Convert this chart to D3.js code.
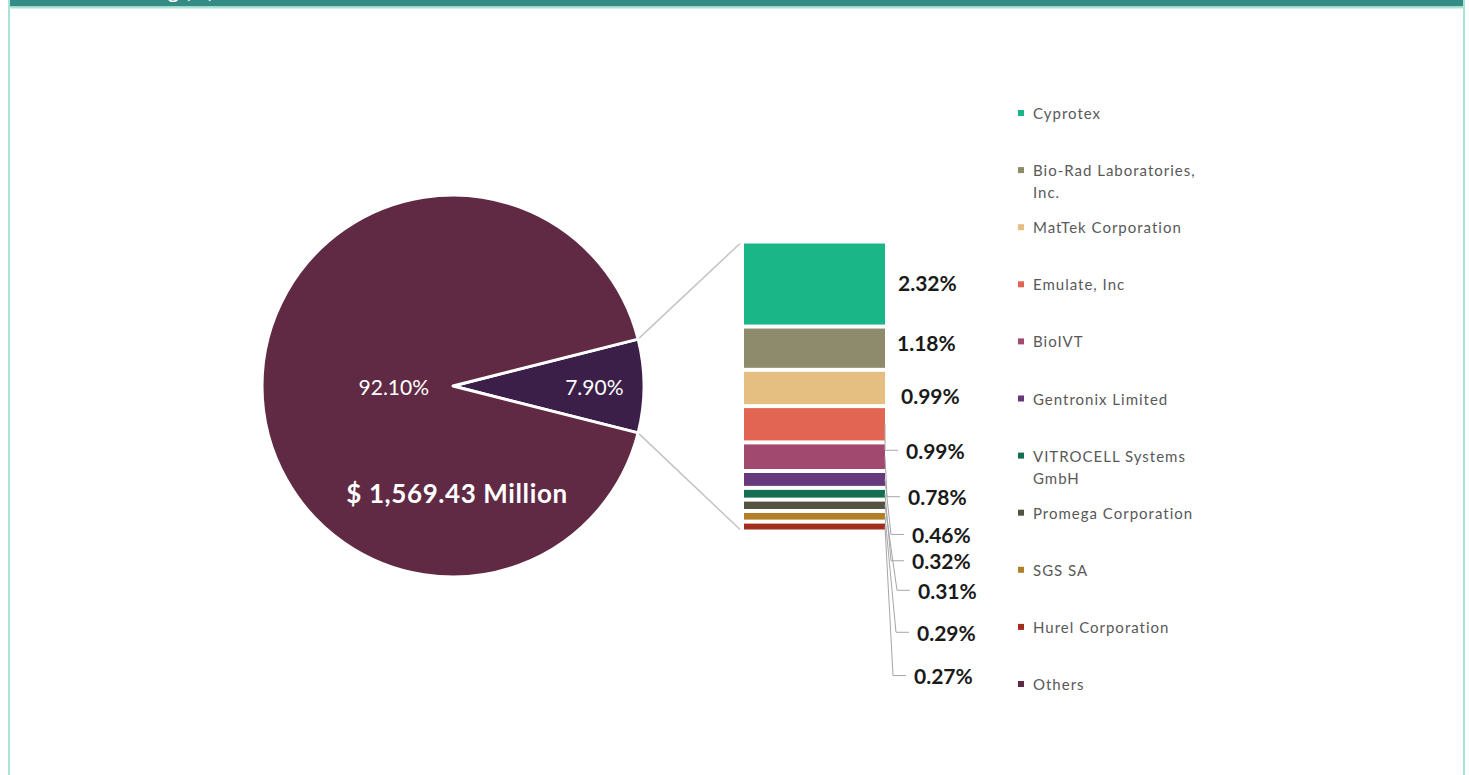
<!DOCTYPE html>
<html>
<head>
<meta charset="utf-8">
<script src="https://cdn.jsdelivr.net/npm/d3@7"></script>
<style>
  body { margin: 0; background: #fff; }
  svg { display: block; font-family: Lato, "Open Sans", sans-serif; }
</style>
</head>
<body>
<svg width="1469" height="775"></svg>
<script>
// ---- data ----
var companies = ["Cyprotex", "Bio-Rad Laboratories, Inc.", "MatTek Corporation", "Emulate, Inc", "BioIVT",
  "Gentronix Limited", "VITROCELL Systems GmbH", "Promega Corporation", "SGS SA", "Hurel Corporation"];
var shares = [2.32, 1.18, 0.99, 0.99, 0.78, 0.46, 0.32, 0.31, 0.29, 0.27];
var companyColors = ["#1bb687", "#8e8a6c", "#e4bf81", "#e26553", "#a24970", "#65397c",
  "#146f52", "#555443", "#b07f27", "#a32d1d"];

var pieNames = ["Top players", "Others"];
var pieShares = [7.90, 92.10];
var pieColors = ["#3b1f48", "#602a44"];
var marketSize = "$ 1,569.43 Million";

// value label layout (px offsets from bar right edge / segment middle)
var labelDx = [13, 12, 16, 21, 23, 27, 27, 33, 32, 29];
var labelDy = [-2, -6, 8, 26, 40, 55, 67, 85, 116, 149];

var svg = d3.select("svg"),
  width = +svg.attr("width"),
  height = +svg.attr("height");

// ---- card frame ----
svg.append("defs").append("clipPath").attr("id", "hdr")
  .append("rect").attr("x", 10).attr("y", 0).attr("width", 1453).attr("height", 6.5);

svg.append("rect").attr("x", 9).attr("y", 0).attr("width", 1455).attr("height", 780)
  .attr("fill", "#fff").attr("stroke", "#a9e4d6").attr("stroke-width", 2);
svg.append("rect").attr("x", 10).attr("y", 0).attr("width", 1453).attr("height", 6.5)
  .attr("fill", "#358c85");
svg.append("line").attr("x1", 10).attr("x2", 1463).attr("y1", 7.5).attr("y2", 7.5)
  .attr("stroke", "#a9e4d6").attr("stroke-width", 2);
svg.append("text")
  .attr("clip-path", "url(#hdr)")
  .attr("x", 214).attr("y", -2)
  .attr("text-anchor", "end")
  .attr("fill", "#fff")
  .attr("font-size", 22)
  .text("Market Share Ranking (%)");

// ---- pie ----
var cx = 453, cy = 386, r = 191;
var frac = pieShares[0] / d3.sum(pieShares);
var start = Math.PI / 2 - frac * Math.PI;

var pie = d3.pie().sort(null).startAngle(start).endAngle(start + 2 * Math.PI);
var arcs = pie(pieShares);
var arc = d3.arc().innerRadius(0).outerRadius(r);

var pg = svg.append("g").attr("transform", "translate(" + cx + "," + cy + ")");
pg.selectAll("path")
  .data(arcs)
  .enter().append("path")
  .attr("d", arc)
  .attr("fill", function (d, i) { return pieColors[i]; })
  .attr("stroke", "#fff")
  .attr("stroke-width", 3)
  .attr("stroke-linejoin", "round");

var labelRadius = [0.74 * r, 0.31 * r];
pg.selectAll("text.pct")
  .data(arcs)
  .enter().append("text")
  .attr("class", "pct")
  .attr("transform", function (d, i) {
    var c = d3.arc().innerRadius(labelRadius[i]).outerRadius(labelRadius[i]).centroid(d);
    return "translate(" + c + ")";
  })
  .attr("text-anchor", "middle")
  .attr("dominant-baseline", "central")
  .attr("fill", "#fff")
  .attr("font-size", 21)
  .text(function (d) { return d.data.toFixed(2) + "%"; });

pg.append("text")
  .attr("x", 4).attr("y", 107)
  .attr("text-anchor", "middle")
  .attr("dominant-baseline", "central")
  .attr("fill", "#fff")
  .attr("font-size", 26)
  .attr("letter-spacing", 0.6)
  .attr("font-weight", "bold")
  .text(marketSize);

// ---- stacked bar of top players ----
var x = d3.scaleBand().domain(["Top players"]).range([742, 887]).padding(0);
var y = d3.scaleLinear().domain([0, d3.sum(shares)]).range([241.5, 531.5]);
var stack = d3.cumsum(shares);
var segs = shares.map(function (v, i) {
  return { name: companies[i], value: v, y0: stack[i] - v, y1: stack[i], i: i };
});
var bx0 = x("Top players"), bx1 = bx0 + x.bandwidth();

// connector lines from slice corners to bar
var corner = function (a) { return [cx + r * Math.sin(a), cy - r * Math.cos(a)]; };
var cTop = corner(arcs[0].startAngle), cBot = corner(arcs[0].endAngle);
svg.append("line")
  .attr("x1", cTop[0] + 1).attr("y1", cTop[1] - 1)
  .attr("x2", bx0 - 2).attr("y2", y(0) + 2)
  .attr("stroke", "#c4c4c4").attr("stroke-width", 1.5);
svg.append("line")
  .attr("x1", cBot[0] + 1).attr("y1", cBot[1] + 1)
  .attr("x2", bx0 - 2).attr("y2", y(d3.sum(shares)) - 2)
  .attr("stroke", "#c4c4c4").attr("stroke-width", 1.5);

svg.append("g").selectAll("rect")
  .data(segs)
  .enter().append("rect")
  .attr("x", bx0 + 2)
  .attr("y", function (d) { return y(d.y0) + 2; })
  .attr("width", x.bandwidth() - 4)
  .attr("height", function (d) { return Math.max(0, y(d.y1) - y(d.y0) - 4); })
  .attr("fill", function (d) { return companyColors[d.i]; });

// leader lines + value labels
var labelPos = function (d) {
  var mid = (y(d.y0) + y(d.y1)) / 2;
  return { mid: mid, lx: bx1 - 2 + labelDx[d.i], ly: mid + labelDy[d.i] };
};

svg.append("g").selectAll("path")
  .data(segs.filter(function (d) { return Math.abs(labelDy[d.i]) > 15; }))
  .enter().append("path")
  .attr("d", function (d) {
    var p = labelPos(d);
    var ex = Math.max(bx1 - 2, p.lx - 21);
    return "M" + (bx1 - 2) + "," + p.mid + "L" + ex + "," + p.ly + "L" + (p.lx - 8) + "," + p.ly;
  })
  .attr("fill", "none")
  .attr("stroke", "#a6a6a6")
  .attr("stroke-width", 1);

svg.append("g").selectAll("text")
  .data(segs)
  .enter().append("text")
  .attr("x", function (d) { return labelPos(d).lx; })
  .attr("y", function (d) { return labelPos(d).ly; })
  .attr("dominant-baseline", "central")
  .attr("font-size", 21)
  .attr("font-weight", "bold")
  .attr("fill", "#1a1a1a")
  .text(function (d) { return d.value.toFixed(2) + "%"; });

// ---- legend ----
var legendNames = companies.concat(["Others"]);
var legendColors = companyColors.concat([pieColors[1]]);
var ly = d3.scalePoint().domain(legendNames).range([113, 684]);

var legend = svg.append("g").selectAll("g")
  .data(legendNames)
  .enter().append("g")
  .attr("transform", function (d) { return "translate(1018," + ly(d) + ")"; });

legend.append("rect")
  .attr("x", 0).attr("y", -3)
  .attr("width", 6).attr("height", 6)
  .attr("fill", function (d, i) { return legendColors[i]; });

legend.append("text")
  .attr("x", 15)
  .attr("dominant-baseline", "central")
  .attr("font-size", 15)
  .attr("letter-spacing", 1)
  .attr("fill", "#595959")
  .each(function (d) {
    // wrap long names onto two lines
    var t = d3.select(this), words = d.split(" "), line = [];
    var ts = t.append("tspan").attr("x", 15).attr("dy", 0);
    words.forEach(function (w) {
      line.push(w);
      ts.text(line.join(" "));
      if (ts.node().getComputedTextLength() > 175 && line.length > 1) {
        line.pop();
        ts.text(line.join(" "));
        line = [w];
        ts = t.append("tspan").attr("x", 15).attr("dy", 22).text(w);
      }
    });
  });
</script>
</body>
</html>
